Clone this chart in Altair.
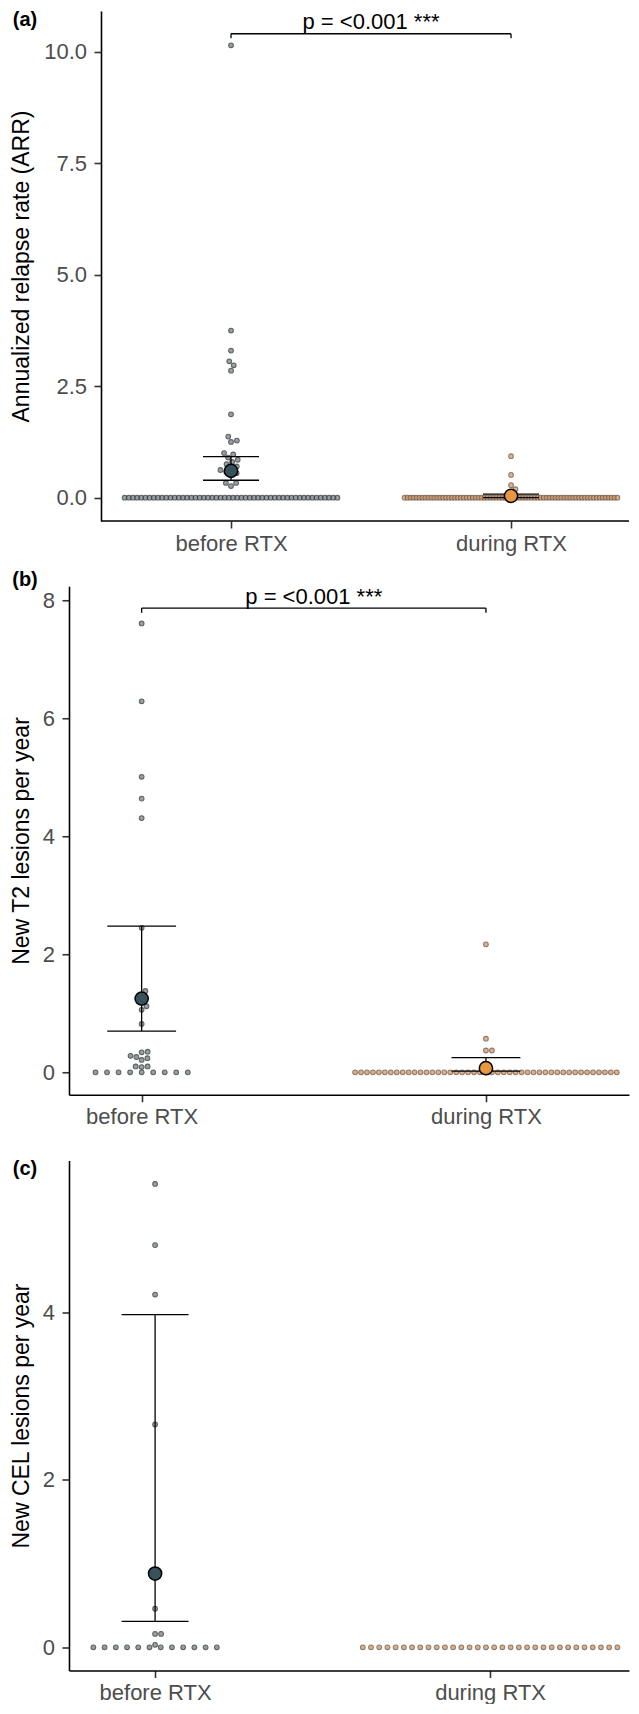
import altair as alt
import numpy as np
import pandas as pd

FONT = "Liberation Sans"
categories = ["before RTX", "during RTX"]
p_label = "p = <0.001 ***"
panel_letters = ["(a)", "(b)", "(c)"]

# ---------------- (a) Annualized relapse rate ----------------
arr_title = "Annualized relapse rate (ARR)"
arr_ticks = [0, 2.5, 5, 7.5, 10]
arr_before_zero_count = 52
arr_before_nonzero = [10.15, 3.75, 3.30, 3.06, 2.97, 2.85, 1.87, 1.37, 1.28, 1.25,
                      1.00, 0.97, 0.90, 0.85, 0.80, 0.75, 0.70, 0.66, 0.62, 0.58,
                      0.55, 0.50, 0.33, 0.33, 0.26]
arr_during_zero_count = 73
arr_during_nonzero = [0.93, 0.51, 0.28, 0.19, 0.10]
arr_mean = [0.60, 0.04]
arr_ci_low = [0.39, 0.00]
arr_ci_high = [0.92, 0.08]
arr_bracket = [10.41, 10.31]      # bar level, foot level
arr_p_y = 10.51

# ---------------- (b) New T2 lesions per year ----------------
t2_title = "New T2 lesions per year"
t2_ticks = [0, 2, 4, 6, 8]
t2_before_zero_count = 9
t2_before_nonzero = [7.61, 6.29, 5.01, 4.64, 4.31, 2.45, 1.38, 1.30, 1.12, 1.06,
                     0.82, 0.35, 0.34, 0.28, 0.26, 0.24, 0.21, 0.10, 0.10, 0.09]
t2_during_zero_count = 45
t2_during_nonzero = [2.17, 0.57, 0.37, 0.37, 0.12]
t2_mean = [1.25, 0.07]
t2_ci_low = [0.70, 0.02]
t2_ci_high = [2.48, 0.25]
t2_bracket = [7.87, 7.79]
t2_p_y = 7.94

# ---------------- (c) New CEL lesions per year ----------------
cel_title = "New CEL lesions per year"
cel_ticks = [0, 2, 4]
cel_before_zero_count = 12
cel_before_nonzero = [5.53, 4.80, 4.21, 2.66, 0.46, 0.16, 0.16, 0.03]
cel_during_zero_count = 32
cel_during_nonzero = []
cel_mean = [0.88]
cel_ci_low = [0.31]
cel_ci_high = [3.97]

# ---------------- styling ----------------
small_fill = ["#80878a", "#d39f72"]
small_stroke = ["#353c3f", "#765a44"]
big_fill = ["#37525c", "#e8963f"]


def zero_row(n, natural=0.0335, span=0.76):
    if n <= 1:
        return [0.0] * n
    step = min(natural, span / (n - 1))
    return [(i - (n - 1) / 2) * step for i in range(n)]


def swarm(values, px_y, px_x, diam=6.0):
    offs = [0.0] * len(values)
    placed = []
    for i in np.argsort(values):
        y = values[i] * px_y
        intervals = []
        for py, pxx in placed:
            dy = abs(py - y)
            if dy < diam:
                w = np.sqrt(diam ** 2 - dy ** 2)
                intervals.append((pxx - w, pxx + w))
        cands = [0.0] + [a for a, b in intervals] + [b for a, b in intervals]
        cands.sort(key=lambda c: (abs(c), -c))
        x = 0.0
        for c in cands:
            if all(not (a + 1e-6 < c < b - 1e-6) for a, b in intervals):
                x = c
                break
        placed.append((y, x))
        offs[i] = x / px_x
    return offs


def make_panel(letter, title, ticks, fmt, groups, means, lows, highs,
               width, height, xdom, ydom, axis_shift, letter_xy,
               bracket=None, p_y=None):
    px_x = width / (xdom[1] - xdom[0])
    px_y = height / (ydom[1] - ydom[0])
    xs = alt.Scale(domain=xdom, nice=False, zero=False)
    ys = alt.Scale(domain=ydom, nice=False, zero=False)
    label_expr = f"datum.value == 1 ? '{categories[0]}' : '{categories[1]}'"
    xaxis = alt.Axis(values=[1, 2], labelExpr=label_expr, title=None,
                     labelPadding=5, labelFlush=False, labelOverlap=False,
                     domain=(axis_shift == 0))
    yaxis = alt.Axis(values=ticks, format=fmt, title=title,
                     titleX=-48 - axis_shift, titleY=height / 2, titleAngle=270,
                     titleAlign="center", titleBaseline="middle", labelPadding=7.5,
                     labelFlush=False, labelOverlap=False, offset=-axis_shift)

    def X(f):
        return alt.X(f, type="quantitative", scale=xs, axis=xaxis)

    def Y(f):
        return alt.Y(f, type="quantitative", scale=ys, axis=yaxis)

    layers = []
    if axis_shift:
        # x-axis line starting at the (shifted) y-axis
        axis_start = xdom[0] + axis_shift / px_x
        adf = pd.DataFrame({"x0": [axis_start], "x1": [xdom[1]], "y0": [ydom[0]]})
        layers.append(alt.Chart(adf).mark_rule(color="black", strokeWidth=1.6).encode(
            x=X("x0"), x2="x1", y=Y("y0")))
    # individual points
    for gi, (zero_n, nonzero) in enumerate(groups):
        pos = gi + 1
        xz = [pos + o for o in zero_row(zero_n)]
        xn = [pos + o for o in swarm(list(nonzero), px_y, px_x)] if nonzero else []
        df = pd.DataFrame({"x": xz + xn, "y": [0.0] * zero_n + list(nonzero)})
        layers.append(
            alt.Chart(df).mark_circle(size=22, strokeWidth=1.1, opacity=0.8).encode(
                x=X("x"), y=Y("y"),
                fill=alt.value(small_fill[gi]), stroke=alt.value(small_stroke[gi]))
        )
    # error bars and means
    for gi in range(len(means)):
        sdf = pd.DataFrame({"x": [gi + 1], "mean": [means[gi]],
                            "lo": [lows[gi]], "hi": [highs[gi]]})
        base = alt.Chart(sdf)
        layers.append(base.mark_rule(color="black", strokeWidth=1.3).encode(
            x=X("x"), y=Y("lo"), y2="hi"))
        capped = base.transform_calculate(xa="datum.x - 0.1", xb="datum.x + 0.1")
        layers.append(capped.mark_rule(color="black", strokeWidth=1.3).encode(
            x=X("xa"), x2="xb", y=Y("lo")))
        layers.append(capped.mark_rule(color="black", strokeWidth=1.3).encode(
            x=X("xa"), x2="xb", y=Y("hi")))
    for gi in range(len(means)):
        sdf = pd.DataFrame({"x": [gi + 1], "mean": [means[gi]]})
        layers.append(alt.Chart(sdf).mark_point(
            shape="circle", filled=True, size=175, stroke="black",
            strokeWidth=1.5, opacity=1).encode(
            x=X("x"), y=Y("mean"), fill=alt.value(big_fill[gi])))
    # significance bracket
    if bracket is not None:
        bdf = pd.DataFrame({"x": [1], "x2": [2], "level": [bracket[0]],
                            "xm": [1.5], "ty": [p_y], "label": [p_label]})
        fdf = pd.DataFrame({"x": [1, 2], "level": [bracket[0]] * 2,
                            "foot": [bracket[1]] * 2})
        layers.append(alt.Chart(bdf).mark_rule(color="black", strokeWidth=1.3).encode(
            x=X("x"), x2="x2", y=Y("level")))
        layers.append(alt.Chart(fdf).mark_rule(color="black", strokeWidth=1.3).encode(
            x=X("x"), y=Y("level"), y2="foot"))
        layers.append(alt.Chart(bdf).mark_text(
            font=FONT, fontSize=22, baseline="alphabetic", align="center",
            color="black").encode(x=X("xm"), y=Y("ty"), text="label:N"))
    # panel letter
    ldf = pd.DataFrame({"t": [letter]})
    layers.append(alt.Chart(ldf).mark_text(
        font=FONT, fontSize=20, fontWeight="bold", align="center",
        baseline="middle", color="black").encode(
        x=alt.value(letter_xy[0]), y=alt.value(letter_xy[1]), text="t:N"))
    return alt.layer(*layers).properties(width=width, height=height)


pa = make_panel(panel_letters[0], arr_title, arr_ticks, ".1f",
                [(arr_before_zero_count, arr_before_nonzero),
                 (arr_during_zero_count, arr_during_nonzero)],
                arr_mean, arr_ci_low, arr_ci_high,
                width=560, height=510, xdom=[0.4214, 2.4214], ydom=[-0.524, 10.92],
                axis_shift=32, letter_xy=(-44, 9.3), bracket=arr_bracket, p_y=arr_p_y)

pb = make_panel(panel_letters[1], t2_title, t2_ticks, "d",
                [(t2_before_zero_count, t2_before_nonzero),
                 (t2_during_zero_count, t2_during_nonzero)],
                t2_mean, t2_ci_low, t2_ci_high,
                width=560, height=508.5, xdom=[0.789, 2.4155], ydom=[-0.38, 8.24],
                axis_shift=0, letter_xy=(-44, -5.8), bracket=t2_bracket, p_y=t2_p_y)

pc = make_panel(panel_letters[2], cel_title, cel_ticks, "d",
                [(cel_before_zero_count, cel_before_nonzero),
                 (cel_during_zero_count, cel_during_nonzero)],
                cel_mean, cel_ci_low, cel_ci_high,
                width=560, height=510, xdom=[0.743, 2.4147], ydom=[-0.277, 5.81],
                axis_shift=0, letter_xy=(-44, 8.8))

chart = alt.vconcat(pa, pb, pc, spacing=65.25, bounds="flush").properties(
    padding={"left": 1, "top": 2, "right": 0, "bottom": 0}
).configure_view(strokeWidth=0).configure_axis(
    labelFont=FONT, labelFontSize=22, labelColor="#4d4d4d",
    titleFont=FONT, titleFontSize=23, titleColor="black", titleFontWeight="normal",
    domainColor="black", domainWidth=1.6, tickColor="#333333", tickWidth=1.6,
    tickSize=7, grid=False
)

chart.save("out.html", embed_options={"renderer": "svg", "actions": False})
